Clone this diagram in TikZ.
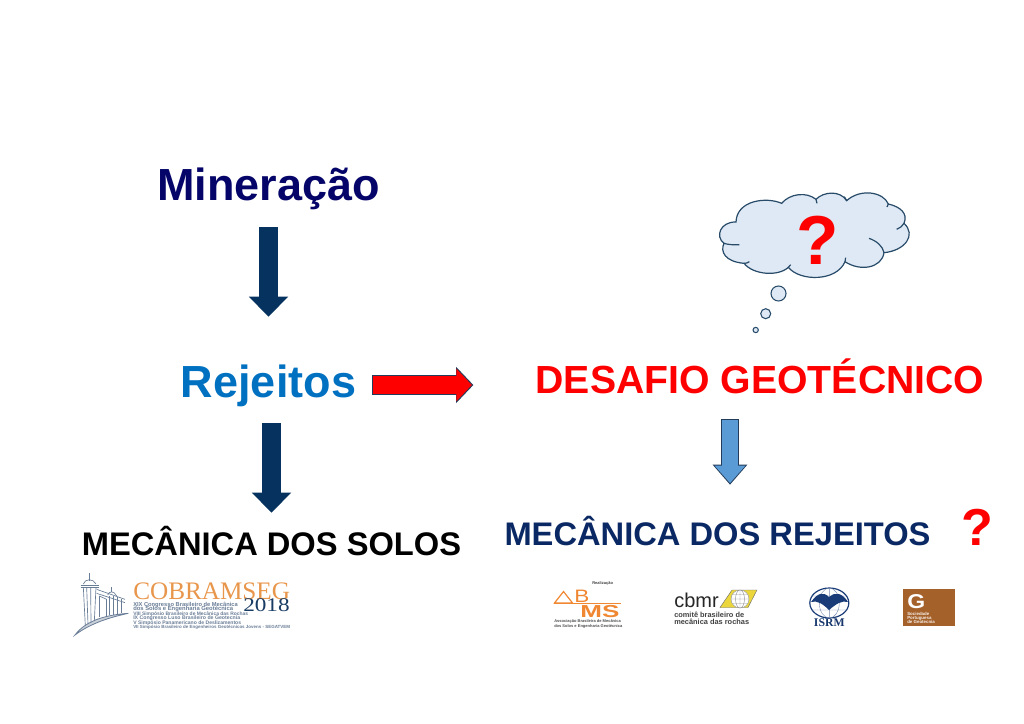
\documentclass[tikz,border=0pt]{standalone}
\usepackage{fontspec}
\setmainfont{Liberation Sans}
\newfontfamily\serifl{Liberation Serif}
\usetikzlibrary{arrows.meta}
\definecolor{navytxt}{RGB}{5,5,105}
\definecolor{rejblue}{RGB}{0,112,192}
\definecolor{arrownavy}{RGB}{5,50,95}
\definecolor{edgenavy}{RGB}{35,60,90}
\definecolor{midblue}{RGB}{91,155,213}
\definecolor{mrej}{RGB}{10,40,100}
\definecolor{cloudfill}{RGB}{222,233,245}
\definecolor{cloudline}{RGB}{40,75,105}
\definecolor{cobor}{RGB}{232,150,75}
\definecolor{cobnavy}{RGB}{25,60,100}
\definecolor{cobgray}{RGB}{105,125,150}
\definecolor{abmsor}{RGB}{240,135,50}
\definecolor{geobrown}{RGB}{165,97,42}
\definecolor{cbmryel}{RGB}{235,215,60}
\definecolor{isrmblue}{RGB}{25,60,120}
\tikzset{
  bigtxt/.style={inner sep=0pt,anchor=base,font=\bfseries\fontsize{33.75pt}{36pt}\selectfont,text height=25.5pt,text depth=7.5pt},
  midtxt/.style={inner sep=0pt,anchor=base,font=\bfseries\fontsize{29.4pt}{32pt}\selectfont,text height=25.5pt,text depth=7.5pt},
  smalltxt/.style={inner sep=0pt,anchor=base,font=\bfseries\fontsize{24.5pt}{26pt}\selectfont,text height=19.5pt,text depth=6pt},
  qmark/.style={inner sep=0pt,anchor=base,text=red,font=\bfseries},
  navyarrow/.style={draw=arrownavy,line width=14.25pt,-{Triangle[length=15pt,width=28.5pt]}},
  tiny/.style={inner sep=0pt,anchor=base west},
  cloudstroke/.style={draw=cloudline,line width=.9pt},
  bubble/.style={circle,draw=cloudline,fill=cloudfill,line width=.8pt,inner sep=0pt},
}
\begin{document}
\begin{tikzpicture}[x=.75pt,y=-.75pt]
\useasboundingbox (0,0) rectangle (1024,724);
% titles
\node[bigtxt,text=navytxt] (min) at (268.5,200) {Mineração};
\node[bigtxt,text=rejblue] (rej) at (268.5,397) {Rejeitos};
\node[midtxt,text=red] (des) at (760,393) {DESAFIO GEOTÉCNICO};
\node[smalltxt,text=black] (sol) at (271.5,555) {MECÂNICA DOS SOLOS};
\node[smalltxt,text=mrej] (mre) at (717.5,545) {MECÂNICA DOS REJEITOS};
\node[qmark,font=\bfseries\fontsize{39pt}{41pt}\selectfont] (q2) at (977,545) {?};
% dark arrows
\draw[navyarrow,shorten <=12.75pt,shorten >=34.5pt] (min.south) -- (rej.north);
\draw[navyarrow,shorten <=12pt,shorten >=12pt] (rej.south -| sol.north) -- (sol.north);
% red arrow
\draw[edgenavy,line width=14.6pt,-{Triangle[length=13pt,width=26.5pt]},shorten <=12pt,shorten >=46.5pt] (rej.east) -- (rej.east -| des.west);
\draw[red,line width=13.1pt,-{Triangle[length=11.5pt,width=23.6pt]},shorten <=12.75pt,shorten >=47.7pt] (rej.east) -- (rej.east -| des.west);
% blue arrow
\draw[edgenavy,line width=13.2pt,-{Triangle[length=15pt,width=25pt]},shorten <=12pt,shorten >=25.5pt] ([xshift=-22.5pt]des.south) -- ([xshift=9.375pt]mre.north);
\draw[midblue,line width=11.7pt,-{Triangle[length=13.2pt,width=22.4pt]},shorten <=12.75pt,shorten >=26.7pt] ([xshift=-22.5pt]des.south) -- ([xshift=9.375pt]mre.north);
% cloud
\begin{scope}[x=.25pt,y=-.25pt,shift={(525pt,-135pt)}]
\draw[cloudstroke,fill=cloudfill] (108,126)
 .. controls (60,125) and (45,170) .. (72,190)
 .. controls (60,215) and (75,245) .. (132,250)
 .. controls (160,285) and (235,290) .. (265,262)
 .. controls (300,305) and (410,305) .. (435,245)
 .. controls (480,275) and (545,265) .. (552,218)
 .. controls (615,212) and (650,165) .. (612,130)
 .. controls (625,100) and (600,80) .. (565,72)
 .. controls (550,35) and (480,25) .. (440,62)
 .. controls (420,30) and (370,35) .. (348,58)
 .. controls (320,35) and (270,40) .. (245,70)
 .. controls (200,50) and (110,60) .. (108,126) -- cycle;
\draw[cloudstroke] (72,190) .. controls (85,194) and (100,195) .. (118,194);
\draw[cloudstroke] (132,250) .. controls (137,250) and (143,249) .. (148,245);
\draw[cloudstroke] (265,262) .. controls (266,259) and (268,257) .. (272,254);
\draw[cloudstroke] (435,245) .. controls (436,241) and (437,238) .. (437,233);
\draw[cloudstroke] (507,175) .. controls (530,183) and (548,198) .. (552,218);
\draw[cloudstroke] (612,130) .. controls (608,138) and (600,144) .. (590,148);
\draw[cloudstroke] (565,72) .. controls (565,75) and (563,78) .. (561,81);
\draw[cloudstroke] (440,62) .. controls (438,58) and (436,54) .. (433,50);
\draw[cloudstroke] (348,58) .. controls (350,62) and (351,66) .. (351,70);
\end{scope}
\node[qmark,font=\bfseries\fontsize{52pt}{54pt}\selectfont] (q1) at (818,264) {?};
\node[bubble,minimum size=11.25pt] (b1) at (778.5,293.5) {};
\node[bubble,minimum size=7.5pt] (b2) at (765.7,313.7) {};
\node[bubble,minimum size=4pt] (b3) at (755.7,330) {};
% COBRAMSEG logo
\begin{scope}[x=.25pt,y=-.25pt,shift={(45pt,-420pt)}]
\begin{scope}[draw=cobgray,line width=.5pt]
\draw[line width=.6pt,fill=cobgray!35] (45,225) .. controls (75,185) and (130,165) .. (205,160) .. controls (135,175) and (85,195) .. (45,225) -- cycle;
\draw (88,40) -- (88,62);
\draw (70,72) .. controls (75,55) and (100,55) .. (108,72);
\draw (62,75) -- (116,75) (62,82) -- (116,82);
\draw (70,82) -- (76,198) (80,82) -- (84,193) (92,82) -- (93,188) (108,82) -- (103,183);
\draw (110,88) -- (195,118) (110,100) -- (195,128);
\draw (118,108) -- (118,170) (140,118) -- (140,170);
\draw (118,108) -- (140,118);
\draw (155,82) -- (155,95);
\draw (143,105) .. controls (148,92) and (162,92) .. (170,108);
\draw (148,108) -- (148,165) (160,108) -- (160,165) (172,112) -- (172,163) (185,118) -- (185,160);
\end{scope}
\end{scope}
\node[inner sep=0pt,anchor=base west,text=cobor,font=\serifl\fontsize{18.9pt}{20pt}\selectfont] (cob) at (133,599) {COBRAMSEG};
\node[inner sep=0pt,anchor=base east,text=cobnavy,xscale=1.2,font=\serifl\fontsize{14.5pt}{15pt}\selectfont] (yr) at (290,611) {2018};
\begin{scope}[every node/.style={tiny,text=cobgray,font=\bfseries\selectfont}]
\node[font=\bfseries\fontsize{4.3pt}{5pt}\selectfont] (c1) at (133,606) {XIX Congresso Brasileiro de Mecânica};
\node[font=\bfseries\fontsize{4.4pt}{5pt}\selectfont] (c2) at (133,610.7) {dos Solos e Engenharia Geotécnica};
\node[font=\bfseries\fontsize{3.7pt}{4pt}\selectfont] (c3) at (133,615.5) {VIII Simpósio Brasileiro de Mecânica das Rochas};
\node[font=\bfseries\fontsize{3.9pt}{4pt}\selectfont] (c4) at (133,619.8) {IX Congresso Luso Brasileiro de Geotecnia};
\node[font=\bfseries\fontsize{3.8pt}{4pt}\selectfont] (c5) at (133,624.2) {V Simpósio Panamericano de Deslizamentos};
\node[font=\bfseries\fontsize{3.35pt}{4pt}\selectfont] (c6) at (133,628.5) {VII Simpósio Brasileiro de Engenheiros Geotécnicos Jovens - SEGATVEM};
\end{scope}
% ABMS logo
\node[tiny,font=\bfseries\fontsize{3pt}{3.5pt}\selectfont,text=black!75] (abr) at (592,584.5) {Realização};
\draw[abmsor,line width=.9pt] (554.5,603) -- (563.5,591.5) -- (572.5,603) -- cycle;
\draw[abmsor,line width=1.1pt] (554,603.5) -- (621,603.5);
\node[tiny,text=abmsor,xscale=1.25,font=\fontsize{13.5pt}{14pt}\selectfont] (abb) at (574,602.5) {B};
\node[tiny,text=abmsor,xscale=1.5,font=\bfseries\fontsize{13pt}{14pt}\selectfont] (abm) at (580,617.5) {MS};
\begin{scope}[every node/.style={tiny,text=black!70,font=\bfseries\fontsize{3pt}{3.5pt}\selectfont}]
\node (ab1) at (554,622.5) {Associação Brasileira de Mecânica};
\node (ab2) at (554,627) {dos Solos e Engenharia Geotécnica};
\end{scope}
% CBMR logo
\fill[cbmryel] (720,607.5) -- (732,590) -- (757,590) -- (748,607.5) -- cycle;
\draw[black!60,line width=.3pt] (720,607.5) -- (732,590) -- (757,590) -- (748,607.5) -- cycle;
\fill[white] (740,599) circle[radius=9];
\draw[black!40,line width=.35pt] (740,599) circle[radius=9] (740,599) ellipse[x radius=4.5,y radius=9] (731,599) -- (749,599) (732.5,594.5) -- (747.5,594.5) (732.5,603.5) -- (747.5,603.5) (740,590) -- (740,608);
\node[tiny,text=black!85,font=\fontsize{15pt}{16pt}\selectfont] (cb) at (674,607) {cbmr};
\begin{scope}[every node/.style={tiny,text=black!75,font=\bfseries\fontsize{5.55pt}{6pt}\selectfont}]
\node (cb1) at (674,617) {comitê brasileiro de};
\node (cb2) at (674,624) {mecânica das rochas};
\end{scope}
% ISRM logo
\fill[white] (829.3,603) ellipse[x radius=20,y radius=15.5];
\draw[isrmblue,line width=.9pt] (829.3,603) ellipse[x radius=19.5,y radius=15];
\draw[isrmblue!60,line width=.3pt] (829.3,603) ellipse[x radius=10,y radius=15] (829.3,588) -- (829.3,618) (811,596) -- (847.5,596) (811,610) -- (847.5,610);
\fill[isrmblue] (811,602) .. controls (818,592) and (824,592) .. (829,597) .. controls (834,592) and (842,592) .. (848,602) .. controls (842,600) and (836,604) .. (829,610) .. controls (823,604) and (817,600) .. (811,602) -- cycle;
\node[inner sep=0pt,anchor=base,text=isrmblue!90!black,font=\serifl\bfseries\fontsize{8.8pt}{9pt}\selectfont] (isrm) at (829.3,626) {ISRM};
% SPG logo
\fill[geobrown] (903,589) rectangle (955,625.5);
\node[tiny,text=white,xscale=1.15,font=\bfseries\fontsize{15pt}{15pt}\selectfont] (gg) at (907,608) {G};
\begin{scope}[every node/.style={tiny,text=white!90!geobrown,font=\bfseries\fontsize{3.3pt}{4pt}\selectfont}]
\node (g1) at (907,615) {Sociedade};
\node (g2) at (907,619) {Portuguesa};
\node (g3) at (907,623.2) {de Geotecnia};
\end{scope}
\end{tikzpicture}
\end{document}
